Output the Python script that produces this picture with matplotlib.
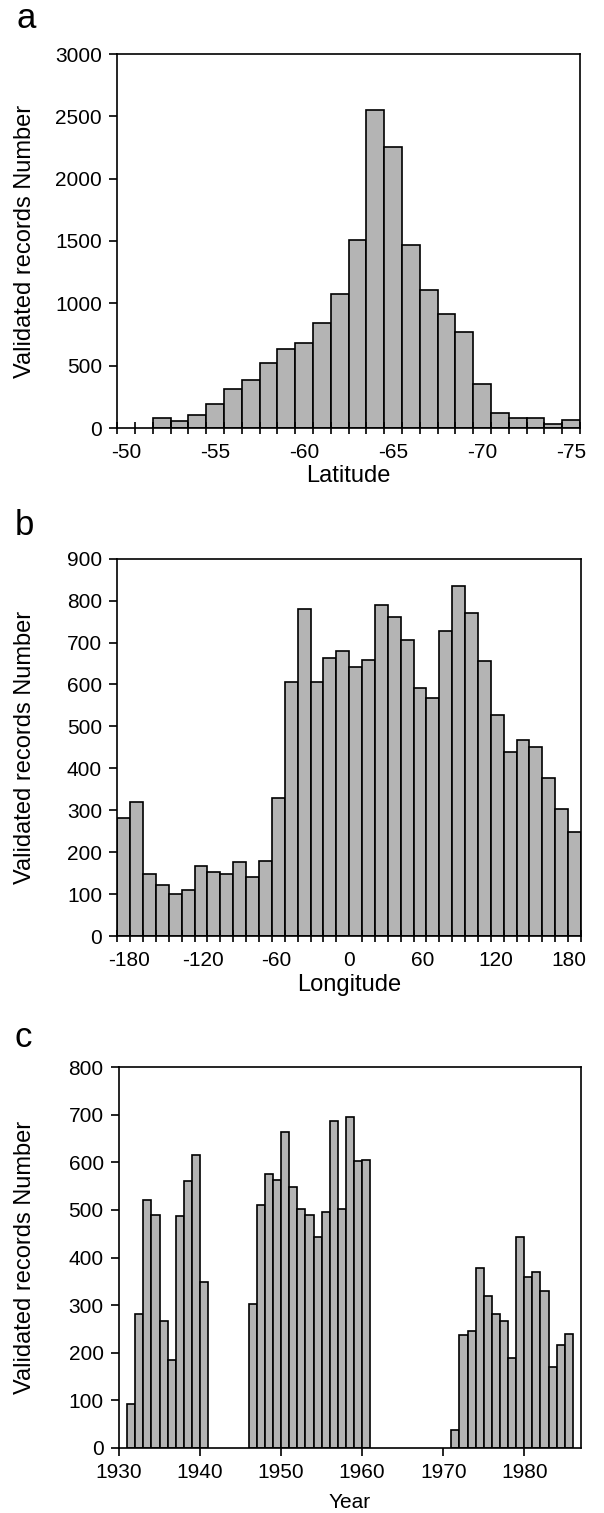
import numpy as np
import matplotlib
matplotlib.use("Agg")
import matplotlib.pyplot as plt
from matplotlib.ticker import FixedLocator

plt.rcParams['font.family'] = ['Liberation Sans', 'DejaVu Sans']
plt.rcParams['axes.unicode_minus'] = False

# ---------------- data ----------------
# Panel a: latitude bins centred on integer degrees -50 ... -75
lat_centers = list(range(-50, -76, -1))
lat_counts = [0, 0, 80, 59, 102, 196, 311, 386, 520, 630, 684, 842, 1075,
              1507, 2552, 2255, 1469, 1105, 912, 767, 351, 118, 78, 78, 32, 62]
lat_ticks = [-50, -55, -60, -65, -70, -75]

# Panel b: longitude, 36 bins spanning -190 ... 190
lon_range = (-190, 190)
lon_counts = [281, 320, 149, 121, 99, 110, 167, 153, 149, 176, 141, 179,
              330, 605, 779, 605, 662, 681, 641, 658, 790, 760, 705, 591,
              567, 728, 835, 771, 655, 526, 440, 468, 450, 376, 304, 249]
lon_ticks = [-180, -120, -60, 0, 60, 120, 180]

# Panel c: year
years = list(range(1931, 1986))
year_counts = [91, 282, 521, 489, 266, 185, 487, 560, 615, 349,
               0, 0, 0, 0, 0,
               302, 510, 576, 563, 664, 548, 502, 489, 443, 495, 688, 502, 696, 602, 605,
               0, 0, 0, 0, 0, 0, 0, 0, 0, 0,
               38, 238, 246, 377, 318, 282, 266, 189, 443, 360, 369, 330, 170, 215, 240]
year_ticks = [1930, 1940, 1950, 1960, 1970, 1980]

ylabel = "Validated records Number"
bar_color = "#b4b4b4"

W, H = 604, 1513
fig = plt.figure(figsize=(W / 100, H / 100), dpi=100)

def add_ax(left, top, right, bottom):
    return fig.add_axes([left / W, 1 - bottom / H, (right - left) / W, (bottom - top) / H])

TICK_FS = 15
LAB_FS = 17
LW = 1.2

def style(ax):
    for s in ax.spines.values():
        s.set_linewidth(LW)
    ax.tick_params(axis='y', direction='out', length=6, width=LW, labelsize=TICK_FS, pad=5)
    ax.tick_params(axis='x', labelsize=TICK_FS)

# ---------- panel a ----------
axa = add_ax(117.3, 54, 580, 428)
lat_c = np.array(lat_centers, dtype=float)
lat_v = np.array(lat_counts)
m = lat_v > 0
axa.bar(lat_c[m], lat_v[m], width=1.0, color=bar_color, edgecolor='black', linewidth=LW)
axa.set_xlim(-49.5, -75.5)
axa.set_ylim(0, 3000)
axa.set_yticks(np.arange(0, 3001, 500))
axa.xaxis.set_major_locator(FixedLocator(lat_ticks))
axa.xaxis.set_minor_locator(FixedLocator(np.append(lat_c + 0.5, lat_c[-1] - 0.5)))
style(axa)
axa.tick_params(axis='x', which='major', length=0, pad=11)
axa.tick_params(axis='x', which='minor', direction='inout', length=9, width=LW)
axa.set_ylabel(ylabel, fontsize=LAB_FS)
axa.yaxis.set_label_coords(-0.175, 0.5)
axa.set_xlabel("Latitude", fontsize=LAB_FS)
axa.xaxis.set_label_coords(0.5, -0.098)
fig.text(16 / W, 1 - 28 / H, "a", fontsize=25, ha='left', va='baseline')

# ---------- panel b ----------
axb = add_ax(117.3, 558.7, 581, 936)
edges = np.linspace(lon_range[0], lon_range[1], len(lon_counts) + 1)
axb.bar(edges[:-1], lon_counts, width=np.diff(edges), align='edge',
        color=bar_color, edgecolor='black', linewidth=LW)
axb.set_xlim(*lon_range)
axb.set_ylim(0, 900)
axb.set_yticks(np.arange(0, 901, 100))
axb.xaxis.set_major_locator(FixedLocator(lon_ticks))
axb.xaxis.set_minor_locator(FixedLocator(edges))
style(axb)
axb.tick_params(axis='x', which='major', length=0, pad=11)
axb.tick_params(axis='x', which='minor', direction='inout', length=9, width=LW)
axb.set_ylabel(ylabel, fontsize=LAB_FS)
axb.yaxis.set_label_coords(-0.175, 0.5)
axb.set_xlabel("Longitude", fontsize=LAB_FS)
axb.xaxis.set_label_coords(0.5, -0.1)
fig.text(15 / W, 1 - 535 / H, "b", fontsize=25, ha='left', va='baseline')

# ---------- panel c ----------
axc = add_ax(119, 1067.3, 581, 1447.7)
yr = np.array(years)
yc = np.array(year_counts)
m = yc > 0
axc.bar(yr[m], yc[m], width=1.0, align='edge', color=bar_color,
        edgecolor='black', linewidth=LW)
axc.set_xlim(1930, 1987)
axc.set_ylim(0, 800)
axc.set_yticks(np.arange(0, 801, 100))
axc.set_xticks(year_ticks)
style(axc)
axc.tick_params(axis='x', direction='out', length=6, width=LW, pad=5)
axc.set_ylabel(ylabel, fontsize=LAB_FS)
axc.yaxis.set_label_coords(-0.18, 0.5)
axc.set_xlabel("Year", fontsize=15)
axc.xaxis.set_label_coords(0.5, -0.12)
fig.text(15 / W, 1 - 1047 / H, "c", fontsize=25, ha='left', va='baseline')

fig.savefig("out.png", dpi=100)
